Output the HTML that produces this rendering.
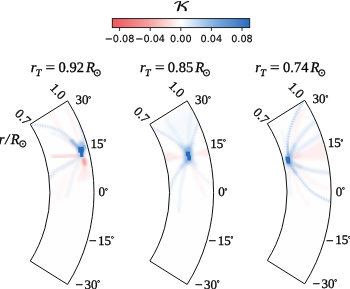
<!DOCTYPE html>
<html><head><meta charset="utf-8"><title>K</title>
<style>
html,body{margin:0;padding:0;background:#fff;}
body{width:350px;height:289px;overflow:hidden;}
svg{display:block;text-rendering:geometricPrecision;}
.s{font-family:"Liberation Serif","DejaVu Serif",serif;font-size:13px;fill:#000;}
.ts{font-family:"Liberation Serif","DejaVu Serif",serif;font-size:14.5px;fill:#000;}
.tsi{font-family:"Liberation Serif","DejaVu Serif",serif;font-size:14.5px;font-style:italic;fill:#000;}
.dg{font-size:7px;font-weight:bold;}
.s,.si,.ts,.tsi,.sub{stroke:#000;stroke-width:0.3px;}

.si{font-family:"Liberation Serif","DejaVu Serif",serif;font-size:13px;font-style:italic;fill:#000;}
.sub{font-family:"Liberation Serif","DejaVu Serif",serif;font-size:10px;font-style:italic;fill:#000;}
.sun{font-family:"DejaVu Sans",sans-serif;font-size:10.2px;fill:#000;stroke:#000;stroke-width:0.3px;}
.t{font-family:"DejaVu Sans","Liberation Sans",sans-serif;font-size:9.7px;fill:#000;stroke:#000;stroke-width:0.15px;}
.k{font-family:"DejaVu Math TeX Gyre","DejaVu Serif",serif;font-size:14.5px;fill:#000;stroke:#000;stroke-width:0.25px;}
</style></head><body>
<svg width="350" height="289" viewBox="0 0 350 289">
<defs>
<linearGradient id="cb" x1="0" x2="1" y1="0" y2="0">
<stop offset="0" stop-color="#ee555c"/><stop offset="0.25" stop-color="#f59a9d"/><stop offset="0.5" stop-color="#ffffff"/><stop offset="0.75" stop-color="#7dacE1"/><stop offset="1" stop-color="#2a6cbd"/>
</linearGradient>
<filter id="b05" x="-50%" y="-50%" width="200%" height="200%"><feGaussianBlur stdDeviation="0.6"/></filter>
<filter id="b1" x="-50%" y="-50%" width="200%" height="200%"><feGaussianBlur stdDeviation="0.9"/></filter>
<filter id="b2" x="-50%" y="-50%" width="200%" height="200%"><feGaussianBlur stdDeviation="1.6"/></filter>
<filter id="b3" x="-50%" y="-50%" width="200%" height="200%"><feGaussianBlur stdDeviation="3"/></filter>

<clipPath id="c0"><path d="M30.27,124.23 L67.58,100.82 A172.8,172.8 0 0 1 67.58,284.48 L30.27,261.07 A128.75,128.75 0 0 0 30.27,124.23 Z"/></clipPath>
<clipPath id="c1"><path d="M149.87,124.23 L187.18,100.82 A172.8,172.8 0 0 1 187.18,284.48 L149.87,261.07 A128.75,128.75 0 0 0 149.87,124.23 Z"/></clipPath>
<clipPath id="c2"><path d="M267.37,123.63 L304.68,100.22 A172.8,172.8 0 0 1 304.68,283.88 L267.37,260.47 A128.75,128.75 0 0 0 267.37,123.63 Z"/></clipPath>
</defs>
<text class="k" transform="translate(181.6,10.9) scale(1.3,0.9)" text-anchor="middle">&#x1D4A6;</text>
<rect x="112.3" y="18.6" width="137.4" height="9" fill="url(#cb)" stroke="#111" stroke-width="0.9"/>
<line x1="119.6" y1="27.8" x2="119.6" y2="30.9" stroke="#111" stroke-width="0.9"/>
<text class="t" x="119.6" y="41.7" text-anchor="middle">−0.08</text>
<line x1="150.2" y1="27.8" x2="150.2" y2="30.9" stroke="#111" stroke-width="0.9"/>
<text class="t" x="150.2" y="41.7" text-anchor="middle">−0.04</text>
<line x1="180.8" y1="27.8" x2="180.8" y2="30.9" stroke="#111" stroke-width="0.9"/>
<text class="t" x="180.8" y="41.7" text-anchor="middle">0.00</text>
<line x1="211.4" y1="27.8" x2="211.4" y2="30.9" stroke="#111" stroke-width="0.9"/>
<text class="t" x="211.4" y="41.7" text-anchor="middle">0.04</text>
<line x1="242.0" y1="27.8" x2="242.0" y2="30.9" stroke="#111" stroke-width="0.9"/>
<text class="t" x="242.0" y="41.7" text-anchor="middle">0.08</text>
<g clip-path="url(#c0)"><path d="M30.27,124.23 L67.58,100.82 A172.8,172.8 0 0 1 67.58,284.48 L30.27,261.07 A128.75,128.75 0 0 0 30.27,124.23 Z" fill="#fffefe"/>
<path d="M79.9,149.0 C78.7,147.7 75.4,143.9 72.6,141.2 C69.8,138.5 66.6,135.2 63.3,133.0 C60.0,130.8 56.4,129.2 52.9,128.0 C49.4,126.8 46.0,126.4 42.5,125.8 C39.0,125.2 33.9,124.8 32.2,124.6" fill="none" stroke="#3f7fca" stroke-opacity="0.09" stroke-width="3.0" stroke-linecap="round" filter="url(#b1)"/>
<path d="M79.9,149.0 C78.7,147.7 75.4,143.9 72.6,141.2 C69.8,138.5 66.6,135.2 63.3,133.0 C60.0,130.8 56.4,129.2 52.9,128.0 C49.4,126.8 46.0,126.4 42.5,125.8 C39.0,125.2 33.9,124.8 32.2,124.6" fill="none" stroke="#3f7fca" stroke-opacity="0.13" stroke-width="2.4" stroke-linecap="butt" stroke-dasharray="1.5 1.1" filter="url(#b05)"/>
<path d="M78.9,151.0 C77.6,149.8 73.8,145.8 71.0,143.5 C68.2,141.2 65.2,138.8 62.0,137.0 C58.8,135.2 53.7,133.7 52.0,133.0" fill="none" stroke="#3f7fca" stroke-opacity="0.09" stroke-width="2.6" stroke-linecap="round" filter="url(#b1)"/>
<path d="M79.9,149.0 C79.2,148.4 77.4,146.9 76.0,145.5 C74.6,144.1 72.2,141.3 71.5,140.5" fill="none" stroke="#3f7fca" stroke-opacity="0.5" stroke-width="3.0" stroke-linecap="round" filter="url(#b1)"/>
<path d="M81.9,148.0 C82.2,147.0 83.4,144.5 83.5,142.0 C83.6,139.5 83.1,136.0 82.5,133.0 C81.9,130.0 80.4,125.5 80.0,124.0" fill="none" stroke="#3f7fca" stroke-opacity="0.2" stroke-width="2.6" stroke-linecap="round" filter="url(#b1)"/>
<path d="M80.9,148.0 C80.2,145.8 78.7,140.0 77.0,135.0 C75.3,130.0 72.8,123.0 71.0,118.0 C69.2,113.0 66.8,107.2 66.0,105.0" fill="none" stroke="#ee6a6e" stroke-opacity="0.08" stroke-width="3" stroke-linecap="round" filter="url(#b1)"/>
<path d="M78.9,149.0 C77.1,147.5 71.8,144.5 68.0,140.0 C64.2,135.5 59.0,126.3 56.0,122.0 C53.0,117.7 51.0,115.3 50.0,114.0" fill="none" stroke="#ee6a6e" stroke-opacity="0.06" stroke-width="4" stroke-linecap="round" filter="url(#b2)"/>
<path d="M77.9,155.5 C76.6,155.6 72.8,155.8 70.0,156.0 C67.2,156.2 63.8,156.5 61.0,156.6 C58.2,156.7 54.3,156.5 53.0,156.5" fill="none" stroke="#ee6a6e" stroke-opacity="0.22" stroke-width="4.4" stroke-linecap="round" filter="url(#b1)"/>
<path d="M78.9,158.0 C77.8,158.7 74.3,160.7 72.0,162.0 C69.7,163.3 67.8,164.1 64.9,165.8 C62.0,167.5 56.9,169.9 54.5,172.0 C52.1,174.1 51.1,177.2 50.4,178.2" fill="none" stroke="#3f7fca" stroke-opacity="0.16" stroke-width="3.2" stroke-linecap="round" filter="url(#b1)"/>
<path d="M79.9,160.0 C79.0,162.0 75.8,168.3 74.3,172.0 C72.8,175.7 72.3,178.2 71.1,182.4 C69.9,186.6 67.7,194.5 67.0,196.9" fill="none" stroke="#3f7fca" stroke-opacity="0.1" stroke-width="2.2" stroke-linecap="round" filter="url(#b1)"/>
<ellipse cx="84.4" cy="161.6" rx="2.1" ry="4.4" fill="#ee6a6e" fill-opacity="0.6" filter="url(#b1)" transform="rotate(-12 84.4 161.6)"/>
<path d="M82.5,157 L90,164 L89.5,180 L77,182 Z" fill="#ee6a6e" fill-opacity="0.10" filter="url(#b2)"/>
<path d="M83.5,160.0 C83.7,161.0 84.3,164.0 84.5,166.0 C84.7,168.0 84.8,171.0 84.8,172.0" fill="none" stroke="#ee6a6e" stroke-opacity="0.12" stroke-width="3.0" stroke-linecap="round" filter="url(#b2)"/>
<path d="M78.9,158.0 C77.4,160.0 72.8,165.5 70.0,170.0 C67.2,174.5 64.0,180.0 62.0,185.0 C60.0,190.0 58.7,197.5 58.0,200.0" fill="none" stroke="#ee6a6e" stroke-opacity="0.05" stroke-width="5.0" stroke-linecap="round" filter="url(#b3)"/>
<ellipse cx="84.6" cy="147.5" rx="1.8" ry="3.0" fill="#3f7fca" fill-opacity="0.3" filter="url(#b05)" transform="rotate(0 84.6 147.5)"/>
<ellipse cx="81.4" cy="149.5" rx="4.2" ry="8.5" fill="#3f7fca" fill-opacity="0.42" filter="url(#b2)" transform="rotate(0 81.4 149.5)"/>
<path d="M78.2,147.2 L83.6,146.8 L84.0,152.2 L83.2,152.6 L83.4,156.8 L80.2,157.0 L80.0,152.8 L78.4,152.4 Z" fill="#2467b8" fill-opacity="0.95" filter="url(#b05)"/>
</g>
<path d="M30.27,124.23 L67.58,100.82 A172.8,172.8 0 0 1 67.58,284.48 L30.27,261.07 A128.75,128.75 0 0 0 30.27,124.23 Z" fill="none" stroke="#111" stroke-width="1" stroke-linejoin="miter"/>
<text class="tsi" x="30.8" y="72">r</text>
<text class="sub" x="35.8" y="75.9">T</text>
<text class="ts" x="45.6" y="72" textLength="9.6" lengthAdjust="spacingAndGlyphs">=</text>
<text class="ts" x="58.5" y="72">0.92</text>
<text class="tsi" x="86.0" y="72">R</text>
<text class="sun" x="93.0" y="76.4">⊙</text>
<text class="s" text-anchor="middle" transform="translate(58.00,91.40) rotate(46)" y="4.2">1.0</text>
<text class="s" text-anchor="middle" transform="translate(22.80,117.20) rotate(46)" y="4.2">0.7</text>
<g transform="translate(0,0)">
<text class="s" x="75.5" y="104.1">30<tspan class="dg" dx="-0.2" dy="-3.6">°</tspan></text>
<text class="s" x="90.6" y="147.8">15<tspan class="dg" dx="-0.2" dy="-3.6">°</tspan></text>
<text class="s" x="98.6" y="196.3">0<tspan class="dg" dx="-0.2" dy="-3.6">°</tspan></text>
<text class="s" x="88.9" y="245.2" textLength="7.6" lengthAdjust="spacingAndGlyphs">−</text>
<text class="s" x="98.1" y="244.8">15<tspan class="dg" dx="-0.2" dy="-3.6">°</tspan></text>
<text class="s" x="75.5" y="288.9" textLength="7.6" lengthAdjust="spacingAndGlyphs">−</text>
<text class="s" x="84.4" y="288.5">30<tspan class="dg" dx="-0.2" dy="-3.6">°</tspan></text>
</g>
<g clip-path="url(#c1)"><path d="M149.87,124.23 L187.18,100.82 A172.8,172.8 0 0 1 187.18,284.48 L149.87,261.07 A128.75,128.75 0 0 0 149.87,124.23 Z" fill="#fffefe"/>
<path d="M187.2,152.8 L160,127 L185,108 L200,118 Z" fill="#3f7fca" fill-opacity="0.04" filter="url(#b3)"/>
<path d="M186.7,151.8 C185.1,150.3 180.6,145.7 177.3,143.0 C174.0,140.3 170.4,137.7 166.9,135.6 C163.4,133.5 159.2,131.5 156.5,130.2 C153.8,128.9 151.9,128.3 151.0,127.9" fill="none" stroke="#3f7fca" stroke-opacity="0.08" stroke-width="2.8" stroke-linecap="round" filter="url(#b1)"/>
<path d="M186.7,151.8 C185.1,150.3 180.6,145.7 177.3,143.0 C174.0,140.3 170.4,137.7 166.9,135.6 C163.4,133.5 159.2,131.5 156.5,130.2 C153.8,128.9 151.9,128.3 151.0,127.9" fill="none" stroke="#3f7fca" stroke-opacity="0.12" stroke-width="2.4" stroke-linecap="butt" stroke-dasharray="1.5 1.1" filter="url(#b05)"/>
<path d="M187.2,151.3 C186.0,149.4 182.5,143.9 180.0,140.0 C177.5,136.1 174.3,131.3 172.0,128.0 C169.7,124.7 167.0,121.3 166.0,120.0" fill="none" stroke="#3f7fca" stroke-opacity="0.1" stroke-width="2.2" stroke-linecap="round" filter="url(#b1)"/>
<path d="M189.2,150.8 C189.8,148.9 191.3,143.4 192.6,139.4 C193.9,135.4 195.7,130.4 196.8,127.0 C198.0,123.6 199.1,120.3 199.5,119.0" fill="none" stroke="#3f7fca" stroke-opacity="0.08" stroke-width="2.8" stroke-linecap="round" filter="url(#b1)"/>
<path d="M189.2,150.8 C189.8,148.9 191.3,143.4 192.6,139.4 C193.9,135.4 195.7,130.4 196.8,127.0 C198.0,123.6 199.1,120.3 199.5,119.0" fill="none" stroke="#3f7fca" stroke-opacity="0.12" stroke-width="2.4" stroke-linecap="butt" stroke-dasharray="1.5 1.1" filter="url(#b05)"/>
<path d="M188.2,150.8 C188.2,149.0 188.3,144.3 188.5,140.0 C188.7,135.7 189.1,129.7 189.5,125.0 C189.9,120.3 190.8,114.2 191.0,112.0" fill="none" stroke="#3f7fca" stroke-opacity="0.08" stroke-width="3" stroke-linecap="round" filter="url(#b1)"/>
<path d="M186.2,160.8 C184.9,162.5 181.0,167.7 178.7,171.1 C176.4,174.5 174.1,177.7 172.5,181.5 C170.9,185.3 170.1,189.9 169.3,194.0 C168.6,198.1 168.2,204.0 168.0,206.0" fill="none" stroke="#3f7fca" stroke-opacity="0.2" stroke-width="2.4" stroke-linecap="round" filter="url(#b1)"/>
<path d="M187.2,161.8 C186.6,163.7 185.0,168.9 183.9,173.2 C182.8,177.5 181.5,183.4 180.8,187.7 C180.1,192.0 180.0,195.1 179.7,199.2 C179.4,203.2 179.1,209.9 179.0,212.0" fill="none" stroke="#3f7fca" stroke-opacity="0.14" stroke-width="2.0" stroke-linecap="round" filter="url(#b1)"/>
<path d="M191.2,160.8 C192.2,162.5 195.0,168.0 197.4,171.1 C199.8,174.2 203.4,177.2 205.7,179.4 C208.0,181.6 210.1,183.2 211.0,184.0" fill="none" stroke="#3f7fca" stroke-opacity="0.1" stroke-width="2.0" stroke-linecap="round" filter="url(#b1)"/>
<path d="M190.2,161.8 C190.8,163.5 192.4,168.3 194.0,172.0 C195.6,175.7 198.2,180.0 200.0,184.0 C201.8,188.0 204.2,194.0 205.0,196.0" fill="none" stroke="#ee6a6e" stroke-opacity="0.07" stroke-width="2.5" stroke-linecap="round" filter="url(#b1)"/>
<path d="M185.5,157 L165,151.5 L165,163 Z" fill="#ee6a6e" fill-opacity="0.13" filter="url(#b1)"/>
<path d="M191,154.8 L210,146.5 L210,157 Z" fill="#ee6a6e" fill-opacity="0.13" filter="url(#b1)"/>
<path d="M181.2,145.8 C182.4,147.3 188.0,151.3 188.2,154.8 C188.4,158.3 183.2,164.8 182.2,166.8" fill="none" stroke="#3f7fca" stroke-opacity="0.16" stroke-width="5" stroke-linecap="round" filter="url(#b2)"/>
<path d="M192.2,143.8 C191.5,145.6 187.7,151.3 188.2,154.8 C188.7,158.3 194.0,163.1 195.2,164.8" fill="none" stroke="#3f7fca" stroke-opacity="0.14" stroke-width="5" stroke-linecap="round" filter="url(#b2)"/>
<ellipse cx="188.2" cy="154.8" rx="5" ry="9.5" fill="#3f7fca" fill-opacity="0.4" filter="url(#b2)" transform="rotate(0 188.2 154.8)"/>
<path d="M185.8,151.8 L190.0,151.6 L190.2,155.4 L191.1,155.8 L191.0,160.4 L187.4,160.6 L187.2,156.4 L185.8,155.8 Z" fill="#2467b8" fill-opacity="0.95" filter="url(#b05)"/>
</g>
<path d="M149.87,124.23 L187.18,100.82 A172.8,172.8 0 0 1 187.18,284.48 L149.87,261.07 A128.75,128.75 0 0 0 149.87,124.23 Z" fill="none" stroke="#111" stroke-width="1" stroke-linejoin="miter"/>
<text class="tsi" x="140.1" y="72">r</text>
<text class="sub" x="145.1" y="75.9">T</text>
<text class="ts" x="154.9" y="72" textLength="9.6" lengthAdjust="spacingAndGlyphs">=</text>
<text class="ts" x="167.8" y="72">0.85</text>
<text class="tsi" x="195.3" y="72">R</text>
<text class="sun" x="202.3" y="76.4">⊙</text>
<text class="s" text-anchor="middle" transform="translate(176.75,89.10) rotate(46)" y="4.2">1.0</text>
<text class="s" text-anchor="middle" transform="translate(141.55,114.90) rotate(46)" y="4.2">0.7</text>
<g transform="translate(0,0)">
<text class="s" x="195.1" y="104.1">30<tspan class="dg" dx="-0.2" dy="-3.6">°</tspan></text>
<text class="s" x="210.2" y="147.8">15<tspan class="dg" dx="-0.2" dy="-3.6">°</tspan></text>
<text class="s" x="218.2" y="196.3">0<tspan class="dg" dx="-0.2" dy="-3.6">°</tspan></text>
<text class="s" x="208.5" y="245.2" textLength="7.6" lengthAdjust="spacingAndGlyphs">−</text>
<text class="s" x="217.7" y="244.8">15<tspan class="dg" dx="-0.2" dy="-3.6">°</tspan></text>
<text class="s" x="195.1" y="288.9" textLength="7.6" lengthAdjust="spacingAndGlyphs">−</text>
<text class="s" x="204.0" y="288.5">30<tspan class="dg" dx="-0.2" dy="-3.6">°</tspan></text>
</g>
<g clip-path="url(#c2)"><path d="M267.37,123.63 L304.68,100.22 A172.8,172.8 0 0 1 304.68,283.88 L267.37,260.47 A128.75,128.75 0 0 0 267.37,123.63 Z" fill="#fffefe"/>
<path d="M290.6,159.2 L326,136 L331,160 Z" fill="#ee6a6e" fill-opacity="0.10" filter="url(#b2)"/>
<ellipse cx="296.5" cy="156.5" rx="5.5" ry="2.6" fill="#ee6a6e" fill-opacity="0.15" filter="url(#b1)" transform="rotate(-20 296.5 156.5)"/>
<path d="M288.6,155.2 L297,112 L306,108 Z" fill="#ee6a6e" fill-opacity="0.07" filter="url(#b2)"/>
<path d="M288.2,155.2 C288.1,153.3 287.0,148.2 287.3,144.0 C287.6,139.8 288.8,134.0 289.8,130.0 C290.8,126.0 292.2,123.2 293.5,120.0 C294.8,116.8 296.1,114.0 297.6,111.0 C299.2,108.0 301.9,103.5 302.8,102.0" fill="none" stroke="#3f7fca" stroke-opacity="0.13" stroke-width="3.0" stroke-linecap="round" filter="url(#b1)"/>
<path d="M288.2,155.2 C288.1,153.3 287.0,148.2 287.3,144.0 C287.6,139.8 288.8,134.0 289.8,130.0 C290.8,126.0 292.2,123.2 293.5,120.0 C294.8,116.8 296.1,114.0 297.6,111.0 C299.2,108.0 301.9,103.5 302.8,102.0" fill="none" stroke="#3f7fca" stroke-opacity="0.18" stroke-width="2.5" stroke-linecap="butt" stroke-dasharray="1.5 1.1" filter="url(#b05)"/>
<path d="M286.6,155.2 C286.2,153.0 284.9,146.2 284.0,142.0 C283.1,137.8 281.9,132.0 281.5,130.0" fill="none" stroke="#3f7fca" stroke-opacity="0.08" stroke-width="2.0" stroke-linecap="round" filter="url(#b1)"/>
<path d="M289.6,155.2 C290.7,153.1 293.7,146.8 296.2,142.8 C298.7,138.8 301.7,134.9 304.7,131.4 C307.7,127.9 311.9,124.2 314.3,121.9 C316.7,119.6 318.2,118.2 319.0,117.5" fill="none" stroke="#3f7fca" stroke-opacity="0.15" stroke-width="4.2" stroke-linecap="round" filter="url(#b1)"/>
<path d="M290.6,156.7 C292.3,155.3 297.3,151.3 300.9,148.5 C304.5,145.7 308.8,142.5 312.4,140.0 C316.0,137.5 320.0,135.1 322.8,133.3 C325.6,131.6 328.0,130.1 329.0,129.5" fill="none" stroke="#3f7fca" stroke-opacity="0.12" stroke-width="4.5" stroke-linecap="round" filter="url(#b1)"/>
<path d="M290.6,162.2 C293.0,163.3 300.2,167.1 305.0,168.7 C309.8,170.3 315.2,171.1 319.5,171.8 C323.8,172.5 329.1,172.8 331.0,173.0" fill="none" stroke="#3f7fca" stroke-opacity="0.17" stroke-width="3.4" stroke-linecap="round" filter="url(#b1)"/>
<path d="M289.1,163.7 C290.7,165.9 295.5,172.7 298.8,177.0 C302.1,181.3 305.7,186.1 309.1,189.4 C312.6,192.7 315.9,194.6 319.5,196.7 C323.1,198.8 329.1,201.1 331.0,202.0" fill="none" stroke="#3f7fca" stroke-opacity="0.12" stroke-width="2.5" stroke-linecap="round" filter="url(#b1)"/>
<path d="M289.1,163.7 C290.7,165.9 295.5,172.7 298.8,177.0 C302.1,181.3 305.7,186.1 309.1,189.4 C312.6,192.7 315.9,194.6 319.5,196.7 C323.1,198.8 329.1,201.1 331.0,202.0" fill="none" stroke="#3f7fca" stroke-opacity="0.17" stroke-width="2.2" stroke-linecap="butt" stroke-dasharray="1.5 1.1" filter="url(#b05)"/>
<path d="M288.1,164.2 C289.0,166.5 291.5,173.4 293.5,178.0 C295.5,182.6 297.6,187.5 300.0,192.0 C302.4,196.5 306.7,202.8 308.0,205.0" fill="none" stroke="#ee6a6e" stroke-opacity="0.05" stroke-width="2.5" stroke-linecap="round" filter="url(#b1)"/>
<path d="M290.6,163.2 C292.7,165.0 298.8,170.5 303.0,174.0 C307.2,177.5 311.8,181.5 316.0,184.0 C320.2,186.5 326.0,188.2 328.0,189.0" fill="none" stroke="#ee6a6e" stroke-opacity="0.06" stroke-width="4" stroke-linecap="round" filter="url(#b2)"/>
<path d="M287.6,163.2 C287.8,164.7 288.2,168.5 288.5,172.0 C288.8,175.5 289.1,180.0 289.5,184.0 C289.9,188.0 290.8,194.0 291.0,196.0" fill="none" stroke="#3f7fca" stroke-opacity="0.1" stroke-width="2.2" stroke-linecap="round" filter="url(#b1)"/>
<path d="M287.9,156.2 C287.8,155.2 287.5,152.0 287.4,150.0 C287.3,148.0 287.3,145.0 287.3,144.0" fill="none" stroke="#3f7fca" stroke-opacity="0.3" stroke-width="2.6" stroke-linecap="round" filter="url(#b1)"/>
<path d="M289.1,156.2 C289.7,155.2 291.5,151.9 292.5,150.0 C293.5,148.1 294.6,145.8 295.0,145.0" fill="none" stroke="#3f7fca" stroke-opacity="0.22" stroke-width="2.8" stroke-linecap="round" filter="url(#b1)"/>
<path d="M289.1,162.2 C289.7,163.2 291.4,166.1 292.5,168.0 C293.6,169.9 295.4,172.6 296.0,173.5" fill="none" stroke="#3f7fca" stroke-opacity="0.3" stroke-width="2.6" stroke-linecap="round" filter="url(#b1)"/>
<path d="M289.6,161.2 C290.7,161.8 294.1,164.0 296.0,165.0 C297.9,166.0 300.2,166.8 301.0,167.2" fill="none" stroke="#3f7fca" stroke-opacity="0.18" stroke-width="3" stroke-linecap="round" filter="url(#b1)"/>
<ellipse cx="288.40000000000003" cy="159.79999999999998" rx="3.8" ry="6.5" fill="#3f7fca" fill-opacity="0.4" filter="url(#b2)" transform="rotate(0 288.40000000000003 159.79999999999998)"/>
<path d="M285.3,156.8 L289.6,156.4 L290.4,160.0 L290.2,163.4 L286.8,163.6 L285.7,160.0 Z" fill="#2467b8" fill-opacity="0.9" filter="url(#b05)"/>
</g>
<path d="M267.37,123.63 L304.68,100.22 A172.8,172.8 0 0 1 304.68,283.88 L267.37,260.47 A128.75,128.75 0 0 0 267.37,123.63 Z" fill="none" stroke="#111" stroke-width="1" stroke-linejoin="miter"/>
<text class="tsi" x="255.3" y="72">r</text>
<text class="sub" x="260.3" y="75.9">T</text>
<text class="ts" x="270.1" y="72" textLength="9.6" lengthAdjust="spacingAndGlyphs">=</text>
<text class="ts" x="283.0" y="72">0.74</text>
<text class="tsi" x="310.5" y="72">R</text>
<text class="sun" x="317.5" y="76.4">⊙</text>
<text class="s" text-anchor="middle" transform="translate(296.25,90.15) rotate(46)" y="4.2">1.0</text>
<text class="s" text-anchor="middle" transform="translate(261.05,115.95) rotate(46)" y="4.2">0.7</text>
<g transform="translate(0,-0.6)">
<text class="s" x="312.6" y="104.1">30<tspan class="dg" dx="-0.2" dy="-3.6">°</tspan></text>
<text class="s" x="327.7" y="147.8">15<tspan class="dg" dx="-0.2" dy="-3.6">°</tspan></text>
<text class="s" x="335.7" y="196.3">0<tspan class="dg" dx="-0.2" dy="-3.6">°</tspan></text>
<text class="s" x="326.0" y="245.2" textLength="7.6" lengthAdjust="spacingAndGlyphs">−</text>
<text class="s" x="335.2" y="244.8">15<tspan class="dg" dx="-0.2" dy="-3.6">°</tspan></text>
<text class="s" x="312.6" y="288.9" textLength="7.6" lengthAdjust="spacingAndGlyphs">−</text>
<text class="s" x="321.5" y="288.5">30<tspan class="dg" dx="-0.2" dy="-3.6">°</tspan></text>
</g>
<text class="tsi" x="-1.3" y="143.7">r</text>
<text class="tsi" x="5.3" y="143.7">/</text>
<text class="tsi" x="10.7" y="143.7">R</text>
<text class="sun" x="18.45" y="147.25">⊙</text>
</svg></body></html>
